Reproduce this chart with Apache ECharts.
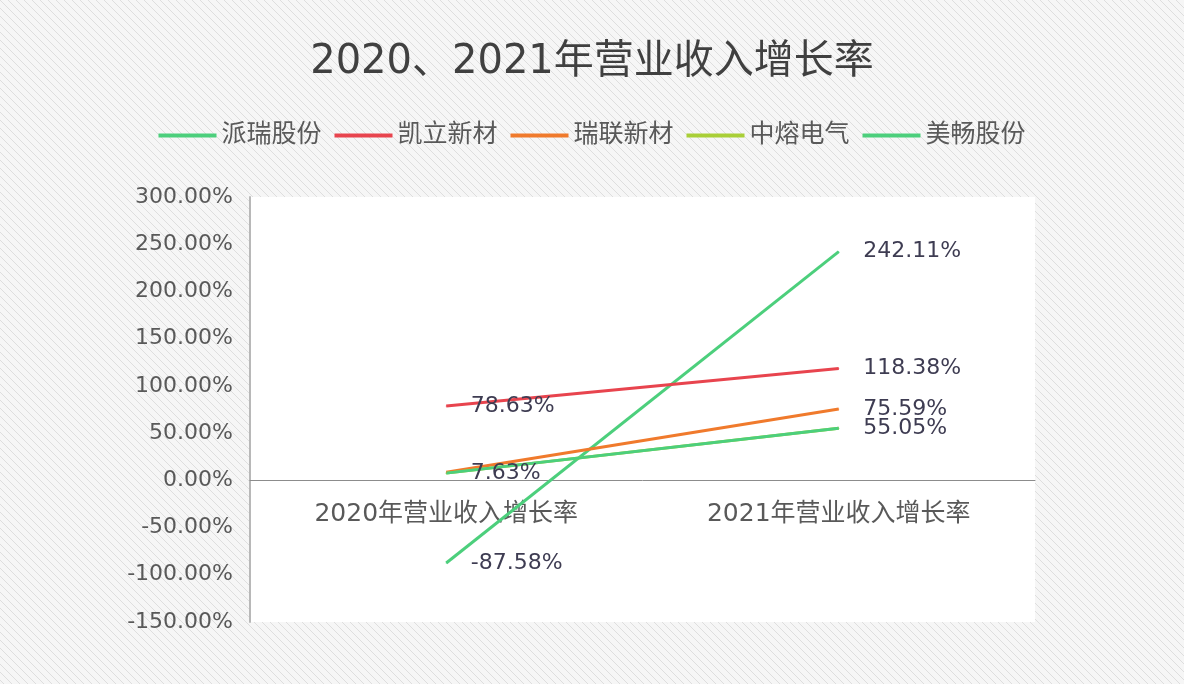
<!DOCTYPE html>
<html>
<head>
<meta charset="utf-8">
<script src="https://cdn.jsdelivr.net/npm/echarts@6/dist/echarts.min.js"></script>
<style>
html,body{margin:0;padding:0;}
#chart{width:1184px;height:684px;}
</style>
</head>
<body>
<div id="chart"></div>
<script>
// 横轴类目
var categories = ['2020年营业收入增长率', '2021年营业收入增长率'];
// 各公司增长率(%)
var names = ['派瑞股份', '凯立新材', '瑞联新材', '中熔电气', '美畅股份'];
var paiRui = [-87.58, 242.11];
var kaiLi = [78.63, 118.38];
var ruiLian = [8.5, 75.59];
var zhongRong = [7.63, 55.05];
var meiChang = [7.63, 55.05];
// 哪些点显示数值标签
var showLabel = [[true, true], [true, true], [false, true], [false, false], [true, true]];
var yTicks = [-150, -100, -50, 0, 50, 100, 150, 200, 250, 300];

var colors = ['#4ccf7c', '#e8444e', '#f07a2c', '#a9cf37', '#4ccf7c'];
var font = '"DejaVu Sans", "Noto Sans CJK SC", sans-serif';

// 斜纹背景
function stripePattern(){
	var c = document.createElement('canvas');
	c.width = 8; c.height = 8;
	var ctx = c.getContext('2d');
	ctx.fillStyle = '#f6f6f6';
	ctx.fillRect(0, 0, 8, 8);
	ctx.strokeStyle = '#dedede';
	ctx.lineWidth = 1;
	ctx.beginPath();
	ctx.moveTo(0, 0); ctx.lineTo(8, 8);
	ctx.moveTo(-4, 4); ctx.lineTo(4, 12);
	ctx.moveTo(4, -4); ctx.lineTo(12, 4);
	ctx.stroke();
	return {image: c, repeat: 'repeat'};
}

var allData = [paiRui, kaiLi, ruiLian, zhongRong, meiChang];
var series = names.map(function(name, i){
	return {
		name: name,
		type: 'line',
		symbol: 'circle',
		symbolSize: 1,
		showSymbol: true,
		lineStyle: {width: 3, color: colors[i]},
		itemStyle: {color: colors[i]},
		z: i == 0 ? 1 : 2,
		data: allData[i].map(function(v, j){
			return {
				value: v,
				label: {
					show: showLabel[i][j],
					position: 'right',
					distance: 24,
					formatter: function(p){ return p.value.toFixed(2) + '%'; },
					color: '#3e3c52',
					fontSize: 22,
					fontFamily: font
				}
			};
		})
	};
});

var myChart = echarts.init(document.getElementById('chart'));
var option = {
	backgroundColor: stripePattern(),
	animation: false,
	title: {
		text: '2020、2021年营业收入增长率',
		left: 'center',
		top: 38,
		textStyle: {fontSize: 40, fontWeight: 'normal', color: '#404040', fontFamily: font}
	},
	legend: {
		data: names,
		top: 118,
		left: 'center',
		itemWidth: 58,
		itemHeight: 4,
		itemGap: 13,
		icon: 'rect',
		textStyle: {fontSize: 25, color: '#595959', fontFamily: font}
	},
	grid: {
		left: 250, right: 149, top: 197, bottom: 62,
		show: true, backgroundColor: '#ffffff', borderWidth: 0
	},
	xAxis: {
		type: 'category',
		data: categories,
		boundaryGap: true,
		axisLine: {onZero: true, lineStyle: {color: '#8c8c8c', width: 1}},
		axisTick: {show: false},
		axisLabel: {fontSize: 25, color: '#595959', fontFamily: font, margin: -120}
	},
	yAxis: {
		type: 'value',
		min: yTicks[0],
		max: yTicks[yTicks.length - 1],
		interval: 50,
		axisLine: {show: true, lineStyle: {color: '#b8b8b8', width: 2}},
		axisTick: {show: false},
		splitLine: {show: false},
		axisLabel: {
			fontSize: 22, color: '#595959', fontFamily: font, margin: 17,
			formatter: function(v){ return v.toFixed(2) + '%'; }
		}
	},
	series: series
};
myChart.setOption(option);
</script>
</body>
</html>
